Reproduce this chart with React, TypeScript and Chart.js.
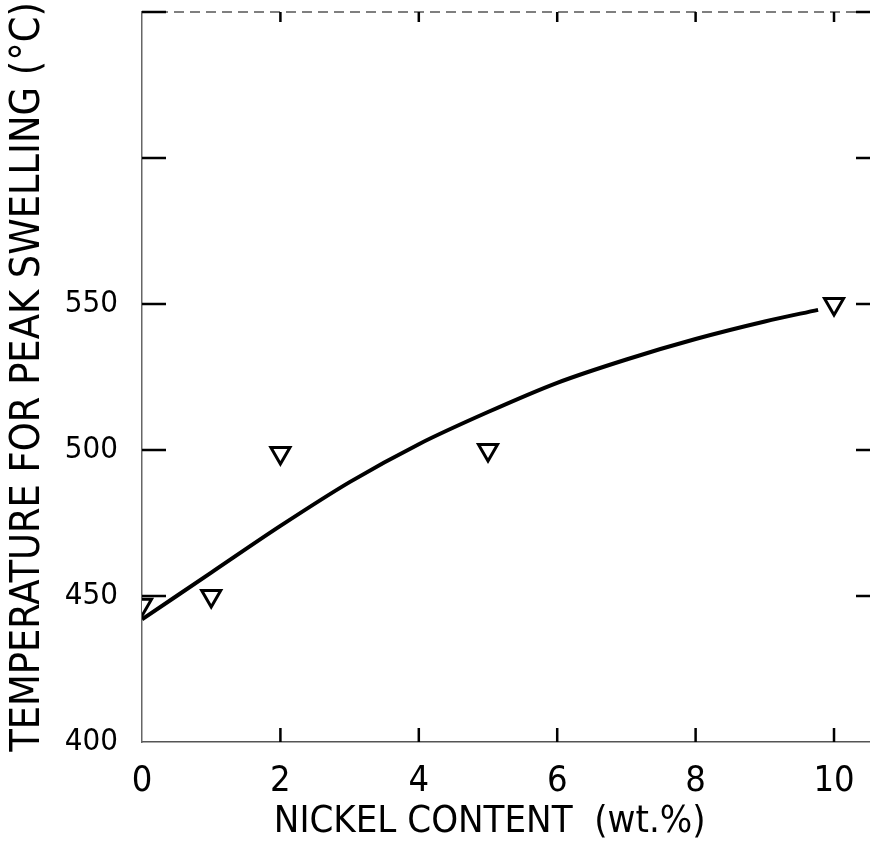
import React, { useEffect, useRef } from "react";
import { Chart, registerables } from "chart.js";

Chart.register(...registerables);

// Measured points (open inverted triangles)
const nickelPoints = [0, 1, 2, 5, 10];
const tempPoints = [447, 450, 499, 500, 550];

// Fitted curve
const curveX = [0, 1, 2, 3, 4, 5, 6, 7, 8, 9, 9.77];
const curveY = [442, 458, 474, 489, 502, 513, 523, 531, 538, 544, 548];

const xTicks = [0, 2, 4, 6, 8, 10];
const yTicks = [400, 450, 500, 550, 600, 650];
const yLabelled = [400, 450, 500, 550];

const FONT = "'DejaVu Sans Condensed', 'DejaVu Sans', sans-serif";

const frameTicks = {
  id: "frameTicks",
  afterDatasetsDraw(chart: any) {
    const { ctx, chartArea, scales } = chart;
    const { left, right, top, bottom } = chartArea;
    const x = scales.x;
    const y = scales.y;
    ctx.save();
    // top border (dashed)
    ctx.strokeStyle = "#555";
    ctx.lineWidth = 1.5;
    ctx.setLineDash([10, 6]);
    ctx.beginPath();
    ctx.moveTo(left, top);
    ctx.lineTo(right, top);
    ctx.stroke();
    ctx.setLineDash([]);
    ctx.strokeStyle = "#000";
    ctx.lineWidth = 2.5;
    ctx.beginPath();
    for (const v of xTicks) {
      if (v === 0) continue;
      const px = x.getPixelForValue(v);
      ctx.moveTo(px, bottom);
      ctx.lineTo(px, bottom - 14);
      ctx.moveTo(px, top);
      ctx.lineTo(px, top + 10);
    }
    for (const v of yTicks) {
      if (v === 400) continue;
      const py = y.getPixelForValue(v);
      ctx.moveTo(left, py);
      ctx.lineTo(left + 24, py);
      ctx.moveTo(right, py);
      ctx.lineTo(right - 14, py);
    }
    ctx.stroke();
    ctx.restore();
  },
};

export default function App() {
  const ref = useRef<HTMLCanvasElement>(null);
  useEffect(() => {
    document.body.style.margin = "0";
    const chart = new Chart(ref.current!, {
      type: "scatter",
      data: {
        datasets: [
          {
            type: "line",
            data: curveX.map((v, i) => ({ x: v, y: curveY[i] })),
            borderColor: "#000",
            borderWidth: 4,
            pointRadius: 0,
            cubicInterpolationMode: "monotone",
            fill: false,
          } as any,
          {
            data: nickelPoints.map((v, i) => ({ x: v, y: tempPoints[i] })),
            pointStyle: "triangle",
            rotation: 180,
            pointRadius: 11,
            borderColor: "#000",
            borderWidth: 3,
            backgroundColor: "#fff",
          } as any,
        ],
      },
      options: {
        animation: false,
        responsive: false,
        maintainAspectRatio: false,
        layout: { autoPadding: false, padding: { top: 12, right: 0, left: 0, bottom: 0 } },
        plugins: { legend: { display: false }, tooltip: { enabled: false } },
        scales: {
          x: {
            type: "linear",
            min: 0,
            max: 10.52,
            afterBuildTicks: (s: any) => {
              s.ticks = xTicks.map((v) => ({ value: v }));
            },
            afterFit: (s: any) => {
              s.height = 107;
              s.paddingLeft = 0;
              s.paddingRight = 0;
            },
            grid: { display: false, drawTicks: false },
            border: { display: true, color: "#555", width: 1.5, dash: [10, 6] },
            ticks: {
              color: "#000",
              font: { family: FONT, size: 36 },
              padding: 18,
              maxRotation: 0,
            },
            title: {
              display: true,
              text: "NICKEL CONTENT  (wt.%)   ",
              color: "#000",
              font: { family: FONT, size: 38 },
              padding: { top: 0, bottom: 4 },
            },
          },
          y: {
            type: "linear",
            min: 400,
            max: 650,
            afterBuildTicks: (s: any) => {
              s.ticks = yTicks.map((v) => ({ value: v }));
            },
            afterFit: (s: any) => {
              s.width = 142;
              s.paddingTop = 0;
              s.paddingBottom = 0;
            },
            grid: { display: false, drawTicks: false },
            border: { display: true, color: "#666", width: 1.5, dash: [3, 5] },
            ticks: {
              color: "#000",
              font: { family: FONT, size: 31 },
              padding: 24,
              callback: (v: any) => (yLabelled.includes(v) ? String(v) : ""),
            },
            title: {
              display: true,
              text: "TEMPERATURE FOR PEAK SWELLING (°C)",
              color: "#000",
              font: { family: FONT, size: 41 },
              padding: { top: 4, bottom: 0 },
            },
          },
        },
      } as any,
      plugins: [frameTicks],
    });
    return () => chart.destroy();
  }, []);
  return (
    <div style={{ position: "absolute", left: 0, top: 0, width: 870, height: 849 }}>
      <canvas ref={ref} width={870} height={849} style={{ width: 870, height: 849 }} />
    </div>
  );
}
